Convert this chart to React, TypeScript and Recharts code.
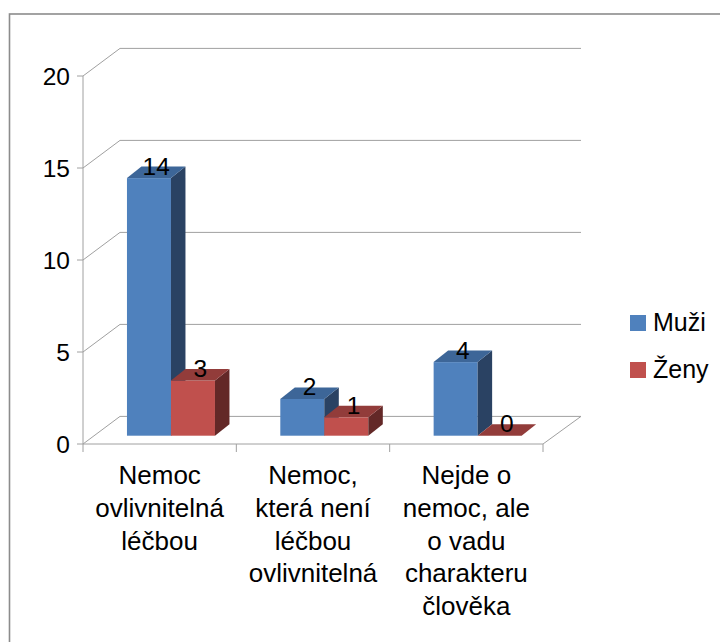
import { Bar, BarChart, CartesianGrid, Customized, LabelList, Legend, XAxis, YAxis } from 'recharts';

const categoryLines = [
  ['Nemoc', 'ovlivnitelná', 'léčbou'],
  ['Nemoc,', 'která není', 'léčbou', 'ovlivnitelná'],
  ['Nejde o', 'nemoc, ale', 'o vadu', 'charakteru', 'člověka']
];
const categories = categoryLines.map((l) => l.join(' '));
const muzi = [14, 2, 4];
const zeny = [3, 1, 0];
const yTicks = [0, 5, 10, 15, 20];

const data = categories.map((name, i) => ({ name, muzi: muzi[i], zeny: zeny[i] }));

const FONT = '"Liberation Sans", Arial, sans-serif';
const GRID = '#a0a0a0';
// wall depth (front axis -> back wall) and bar row offset / bar depth
const WALL_DX = 37;
const WALL_DY = -27.6;
const ROW_DX = 11;
const ROW_DY = -8.3;
const BAR_DX = 14.5;
const BAR_DY = -11.5;
const PLOT_W = 460;
const BAND = PLOT_W / categories.length;

const COLORS = {
  muzi: { front: '#4f81bd', top: '#3d6698', side: '#2a4263' },
  zeny: { front: '#c0504d', top: '#923c3a', side: '#632827' }
};

function makeShape(c: { front: string; top: string; side: string }) {
  return (props: any) => {
    const { x, y, width, height } = props;
    const x0 = x + ROW_DX;
    const y0 = y + ROW_DY;
    const x1 = x0 + width;
    const y1 = y0 + height;
    return (
      <g>
        {height > 0 && <rect x={x0} y={y0} width={width} height={height} fill={c.front} />}
        {height > 0 && (
          <polygon
            points={`${x1},${y0} ${x1 + BAR_DX},${y0 + BAR_DY} ${x1 + BAR_DX},${y1 + BAR_DY} ${x1},${y1}`}
            fill={c.side}
          />
        )}
        <polygon
          points={`${x0},${y0} ${x0 + BAR_DX},${y0 + BAR_DY} ${x1 + BAR_DX},${y0 + BAR_DY} ${x1},${y0}`}
          fill={c.top}
        />
      </g>
    );
  };
}

const valueLabel = (props: any) => {
  const { x, y, width, value } = props;
  return (
    <text
      x={x + width / 2 + ROW_DX + BAR_DX / 2}
      y={y + ROW_DY - 3.5}
      textAnchor="middle"
      fontSize={24.5}
      fontFamily={FONT}
      fill="#000"
    >
      {value}
    </text>
  );
};

const gridLine = (props: any) => {
  const { x1, x2, y1, index } = props;
  const by = y1 + WALL_DY;
  return (
    <g key={`wall-${index}`}>
      <line x1={x1} y1={y1} x2={x1 + WALL_DX} y2={by} stroke={GRID} />
      <line x1={x1 + WALL_DX} y1={by} x2={x2 + WALL_DX + 1} y2={by} stroke={GRID} />
      {index === 0 && <line x1={x2} y1={y1} x2={x2 + WALL_DX + 1} y2={by} stroke={GRID} />}
    </g>
  );
};

const CategoryTick = (props: any) => {
  const { x, y, payload, index } = props;
  const lines = categoryLines[index] || [payload.value];
  return (
    <g>
      <line x1={x - BAND / 2} y1={y - 8} x2={x - BAND / 2} y2={y} stroke={GRID} />
      {index === categories.length - 1 && (
        <line x1={x + BAND / 2} y1={y - 8} x2={x + BAND / 2} y2={y} stroke={GRID} />
      )}
      {lines.map((t: string, i: number) => (
        <text
          key={i}
          x={x}
          y={y + 32 + i * 32.8}
          textAnchor="middle"
          fontSize={26}
          fontFamily={FONT}
          fill="#000"
        >
          {t}
        </text>
      ))}
    </g>
  );
};

const LegendContent = (props: any) => {
  const items = props.payload || [];
  return (
    <div style={{ fontFamily: FONT, fontSize: 25, color: '#000' }}>
      {items.map((it: any, i: number) => (
        <div key={i} style={{ display: 'flex', alignItems: 'center', height: 47 }}>
          <span style={{ display: 'inline-block', width: 16, height: 16, background: it.color, marginRight: 7 }} />
          <span>{it.value}</span>
        </div>
      ))}
    </div>
  );
};

const Frame = () => <rect x={9.5} y={14} width={720} height={650} fill="none" stroke="#8c8c8c" strokeWidth={1.6} />;

export default function App() {
  return (
    <div style={{ position: 'absolute', left: 0, top: 0, background: '#fff' }}>
      <BarChart
        width={720}
        height={642}
        data={data}
        margin={{ top: 76, right: 177, left: 23, bottom: 38 }}
        barCategoryGap="21.5%"
        barGap={0}
      >
        <Customized component={<Frame />} />
        <CartesianGrid vertical={false} horizontal={gridLine} stroke={GRID} />
        <XAxis
          dataKey="name"
          height={160}
          interval={0}
          tickLine={false}
          axisLine={{ stroke: GRID }}
          tick={<CategoryTick />}
        />
        <YAxis
          width={60}
          domain={[0, 20]}
          ticks={yTicks}
          interval={0}
          tickSize={6}
          tickMargin={7}
          axisLine={{ stroke: GRID }}
          tickLine={{ stroke: GRID }}
          tick={{ fontSize: 24.5, fontFamily: FONT, fill: '#000' }}
        />
        <Legend
          layout="vertical"
          align="center"
          verticalAlign="middle"
          wrapperStyle={{ left: 630, top: 299, width: 90 }}
          content={<LegendContent />}
        />
        <Bar dataKey="muzi" name="Muži" fill={COLORS.muzi.front} shape={makeShape(COLORS.muzi)} isAnimationActive={false}>
          <LabelList dataKey="muzi" content={valueLabel} />
        </Bar>
        <Bar dataKey="zeny" name="Ženy" fill={COLORS.zeny.front} shape={makeShape(COLORS.zeny)} isAnimationActive={false}>
          <LabelList dataKey="zeny" content={valueLabel} />
        </Bar>
      </BarChart>
    </div>
  );
}
